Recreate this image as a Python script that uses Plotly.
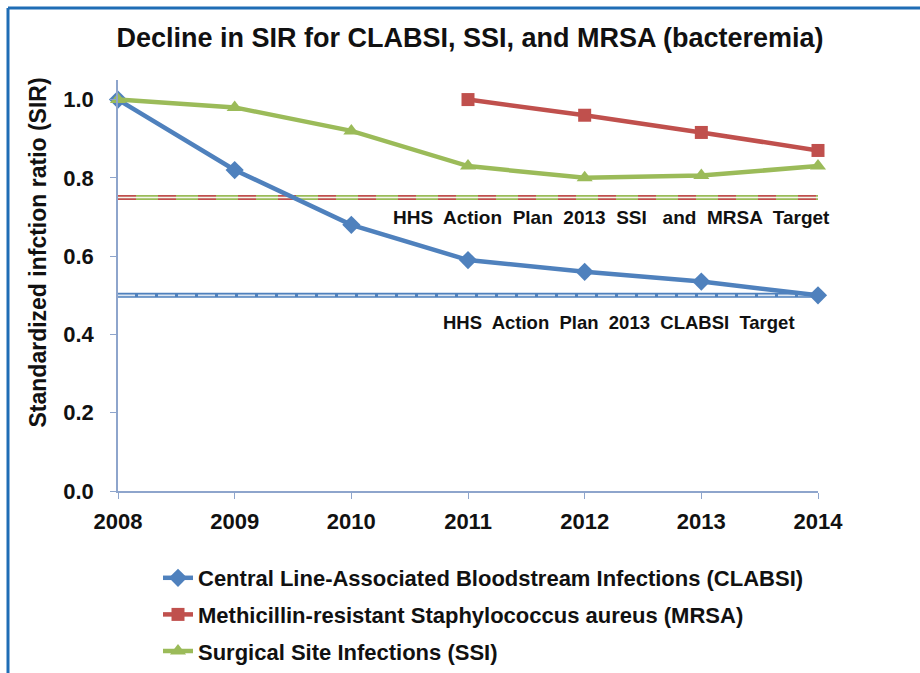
import plotly.graph_objects as go

years = [2008, 2009, 2010, 2011, 2012, 2013, 2014]
clabsi = [1.0, 0.82, 0.68, 0.59, 0.56, 0.535, 0.50]
mrsa_years = [2011, 2012, 2013, 2014]
mrsa = [1.0, 0.96, 0.916, 0.87]
ssi = [1.0, 0.98, 0.92, 0.83, 0.80, 0.806, 0.83]
ssi_mrsa_target = 0.75
clabsi_target = 0.50
target_x = [2008, 2014]

BLUE = "#4F81BD"
RED = "#C0504D"
GREEN = "#9BBB59"
AXIS = "#8EA5CC"
FONT = "Liberation Sans, Arial, sans-serif"
TXT = "#111111"

W, H = 920, 673
L, R, T, B = 118, 102, 80, 182
PW, PH = W - L - R, H - T - B


def px(xpix):
    return (xpix - L) / PW


def py(ypix):
    return (H - B - ypix) / PH


fig = go.Figure()

# SSI / MRSA target (double line, alternating red/green)
fig.add_trace(go.Scatter(x=target_x, y=[ssi_mrsa_target] * 2, mode="lines",
                         line=dict(color=GREEN, width=5), showlegend=False, hoverinfo="skip"))
fig.add_trace(go.Scatter(x=target_x, y=[ssi_mrsa_target] * 2, mode="lines",
                         line=dict(color=RED, width=5, dash="18px,22px"), showlegend=False, hoverinfo="skip"))
fig.add_trace(go.Scatter(x=target_x, y=[ssi_mrsa_target] * 2, mode="lines",
                         line=dict(color="#F4F7EE", width=1.5), showlegend=False, hoverinfo="skip"))
# CLABSI target
fig.add_trace(go.Scatter(x=target_x, y=[clabsi_target] * 2, mode="lines",
                         line=dict(color=BLUE, width=5), showlegend=False, hoverinfo="skip"))
fig.add_trace(go.Scatter(x=target_x, y=[clabsi_target] * 2, mode="lines",
                         line=dict(color="#DCE6F2", width=1.8, dash="17px,3px"), showlegend=False, hoverinfo="skip"))

fig.add_trace(go.Scatter(x=years, y=clabsi, mode="lines+markers",
                         name="Central Line-Associated Bloodstream Infections (CLABSI)",
                         legendgroup="a",
                         line=dict(color=BLUE, width=4.5),
                         marker=dict(symbol="diamond", size=14, color=BLUE),
                         cliponaxis=False))
fig.add_trace(go.Scatter(x=mrsa_years, y=mrsa, mode="lines+markers",
                         name="Methicillin-resistant Staphylococcus aureus (MRSA)",
                         legendgroup="b",
                         line=dict(color=RED, width=4.5),
                         marker=dict(symbol="square", size=13, color=RED),
                         cliponaxis=False))
fig.add_trace(go.Scatter(x=years, y=ssi, mode="lines+markers",
                         name="Surgical Site Infections (SSI)",
                         legendgroup="c",
                         line=dict(color=GREEN, width=4.5),
                         marker=dict(symbol="triangle-up", size=14, color=GREEN),
                         cliponaxis=False))

fig.add_annotation(x=2012.23, y=0.698,
                   text="<b>HHS  Action  Plan  2013  SSI\u00a0\u00a0\u00a0and  MRSA  Target</b>",
                   showarrow=False, font=dict(family=FONT, size=19, color=TXT))
fig.add_annotation(x=2012.29, y=0.43, text="<b>HHS  Action  Plan  2013  CLABSI  Target</b>",
                   showarrow=False, font=dict(family=FONT, size=18.5, color=TXT))

# y-axis title
fig.add_annotation(xref="paper", yref="paper", x=px(37.5), y=py(253), textangle=-90,
                   text="<b>Standardized infction ratio (SIR)</b>", showarrow=False,
                   xanchor="center", yanchor="middle",
                   font=dict(family=FONT, size=23, color=TXT))

# slide border (top and left)
fig.add_shape(type="line", xref="paper", yref="paper", x0=px(8), x1=px(930), y0=py(8), y1=py(8),
              line=dict(color="#1F6DB5", width=3))
fig.add_shape(type="line", xref="paper", yref="paper", x0=px(8), x1=px(8), y0=py(8), y1=py(690),
              line=dict(color="#1F6DB5", width=3))

fig.update_layout(
    width=W, height=H,
    margin=dict(l=L, r=R, t=T, b=B, autoexpand=False),
    paper_bgcolor="white", plot_bgcolor="white",
    font=dict(family=FONT, size=22, color=TXT),
    title=dict(text="<b>Decline in SIR for CLABSI, SSI, and MRSA (bacteremia)</b>",
               x=470 / W, xanchor="center", y=1 - 38 / H, yanchor="middle",
               font=dict(family=FONT, size=27, color=TXT)),
    showlegend=True,
    legend=dict(x=px(158), y=py(557), xanchor="left", yanchor="top",
                font=dict(family=FONT, size=22, color=TXT, weight="bold"),
                tracegroupgap=5, bgcolor="rgba(0,0,0,0)"),
    xaxis=dict(range=[2008, 2014], tickmode="array", tickvals=years,
               ticktext=[str(y) for y in years],
               showgrid=False, zeroline=False, showline=True, linecolor=AXIS, linewidth=1.5,
               ticks="outside", ticklen=6, tickcolor=AXIS, tickwidth=1.2,
               ticklabelstandoff=4,
               tickfont=dict(family=FONT, size=22, color=TXT, weight="bold")),
    yaxis=dict(range=[0, 1.05], tickmode="array", tickvals=[0, 0.2, 0.4, 0.6, 0.8, 1.0],
               ticktext=["0.0", "0.2", "0.4", "0.6", "0.8", "1.0"],
               showgrid=False, zeroline=False, showline=True, linecolor=AXIS, linewidth=1.5,
               ticks="outside", ticklen=6, tickcolor=AXIS, tickwidth=1.2,
               ticklabelstandoff=12,
               tickfont=dict(family=FONT, size=22, color=TXT, weight="bold")),
)

fig.write_html("out.html", config={"displayModeBar": False},
               post_script="document.body.style.margin='0';document.body.style.overflow='hidden';")
